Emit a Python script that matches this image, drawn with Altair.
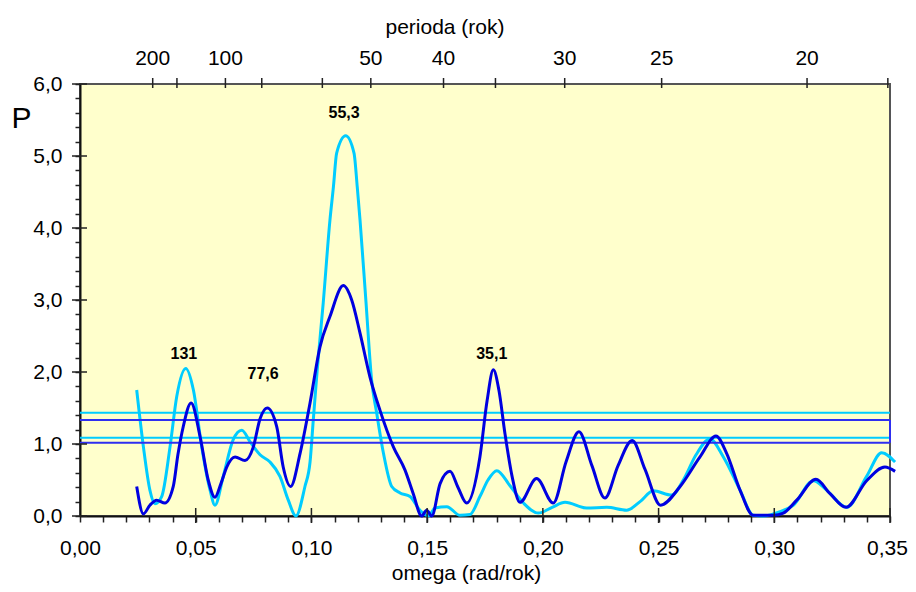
import altair as alt
import pandas as pd

# ---------------- data ----------------
omega_cyan = [0.0245, 0.0274, 0.0302, 0.0324, 0.0353, 0.0389, 0.0418, 0.0457, 0.0490, 0.0526,
              0.0562, 0.0583, 0.0619, 0.0662, 0.0699, 0.0735, 0.0778, 0.0821, 0.0864, 0.0900,
              0.0933, 0.0972, 0.0994, 0.1008, 0.1025, 0.1051, 0.1080, 0.1095, 0.1109, 0.1148,
              0.1184, 0.1198, 0.1210, 0.1236, 0.1260, 0.1282, 0.1311, 0.1347, 0.1383, 0.1426,
              0.1469, 0.1505, 0.1534, 0.1585, 0.1642, 0.1685, 0.1728, 0.1763, 0.1801, 0.1858,
              0.1916, 0.1980, 0.2040, 0.2096, 0.2189, 0.2276, 0.2362, 0.2420, 0.2477, 0.2557,
              0.2607, 0.2662, 0.2722, 0.2780, 0.2852, 0.2909, 0.2953, 0.3025, 0.3082, 0.3169,
              0.3226, 0.3313, 0.3399, 0.3464, 0.3522]
p_cyan = [1.75, 0.96, 0.36, 0.17, 0.27, 0.96, 1.66, 2.05, 1.75, 0.96,
          0.36, 0.15, 0.55, 1.06, 1.19, 1.03, 0.85, 0.75, 0.55, 0.22,
          0.00, 0.41, 0.75, 1.33, 2.03, 2.96, 4.11, 4.57, 5.04, 5.28,
          5.04, 4.57, 4.11, 2.96, 1.89, 1.43, 0.875, 0.41, 0.32, 0.27,
          0.08, 0.00, 0.11, 0.13, 0.01, 0.02, 0.27, 0.50, 0.63, 0.42,
          0.18, 0.04, 0.12, 0.19, 0.11, 0.12, 0.08, 0.20, 0.35, 0.29,
          0.50, 0.85, 1.07, 0.82, 0.36, 0.01, 0.00, 0.06, 0.15, 0.49,
          0.36, 0.12, 0.55, 0.88, 0.75]

omega_blue = [0.0245, 0.0274, 0.0302, 0.0331, 0.0367, 0.0403, 0.0423, 0.0446, 0.0480, 0.0519,
              0.0554, 0.0583, 0.0609, 0.0634, 0.0670, 0.0713, 0.0749, 0.0778, 0.0809, 0.0850,
              0.0878, 0.0910, 0.0951, 0.0994, 0.1037, 0.1080, 0.1138, 0.1174, 0.1210, 0.1253,
              0.1296, 0.1354, 0.1404, 0.1440, 0.1476, 0.1498, 0.1520, 0.1556, 0.1599, 0.1633,
              0.1671, 0.1728, 0.1759, 0.1786, 0.1810, 0.1836, 0.1867, 0.1901, 0.1973, 0.2045,
              0.2100, 0.2156, 0.2212, 0.2268, 0.2325, 0.2386, 0.2441, 0.2509, 0.2593, 0.2679,
              0.2748, 0.2794, 0.2852, 0.2909, 0.2996, 0.3039, 0.3097, 0.3180, 0.3241, 0.3310,
              0.3399, 0.3478, 0.3522]
p_blue = [0.41, 0.03, 0.15, 0.22, 0.18, 0.41, 0.85, 1.24, 1.57, 1.10,
          0.50, 0.26, 0.45, 0.68, 0.82, 0.77, 0.96, 1.35, 1.50, 1.24,
          0.68, 0.41, 0.87, 1.57, 2.35, 2.77, 3.20, 3.00, 2.54, 1.93,
          1.47, 0.96, 0.64, 0.31, 0.00, 0.08, 0.00, 0.45, 0.62, 0.40,
          0.18, 0.82, 1.60, 2.03, 1.75, 1.15, 0.55, 0.19, 0.52, 0.18,
          0.75, 1.17, 0.70, 0.25, 0.70, 1.05, 0.65, 0.15, 0.41, 0.82,
          1.11, 0.87, 0.36, 0.01, 0.01, 0.04, 0.22, 0.51, 0.31, 0.12,
          0.49, 0.68, 0.62]

thr_cyan = [1.435, 1.088]
thr_blue = [1.333, 1.018]

peak_labels = ["131", "77,6", "55,3", "35,1"]
peak_omega = [0.0449, 0.0791, 0.1141, 0.1779]
peak_p = [2.25, 1.97, 5.60, 2.25]

period_ticks = [200, 150, 100, 80, 60, 50, 40, 35, 30, 25, 20, 18]
period_labels = [200, 100, 50, 40, 30, 25, 20]

x_ticks = [round(i * 0.01, 2) for i in range(36)]
x_major = [round(i * 0.05, 2) for i in range(1, 8)]
y_ticks = [round(i * 0.2, 1) for i in range(31)]
y_major = [float(i) for i in range(7)]

# ---------------- styling ----------------
W, H = 810, 432
FONT = "Liberation Sans"
CYAN = "#00CCFF"
BLUE = "#0000E0"
BLUE_THR = "#2E2EF0"
TWO_PI = 6.283185307179586

xs = alt.Scale(domain=[0, 0.35], nice=False, zero=False)
ys = alt.Scale(domain=[0, 6], nice=False, zero=False)

x_axis = alt.Axis(
    values=x_ticks,
    labelExpr="abs(datum.value*20 - round(datum.value*20)) < 0.001 ? replace(format(datum.value, '.2f'), '.', ',') : ''",
    labelOffset={"condition": {"test": "datum.value > 0.345", "value": -3}, "value": 0},
    tickSize=6, tickWidth=1.5, tickColor="#222",
    domainColor="#111", domainWidth=2,
    labelFontSize=21, labelColor="black", labelPadding=15,
    labelFlush=False, labelOverlap=False, labelBound=False,
    grid=False,
    title="omega (rad/rok)", titleFontSize=21, titleFontWeight="normal", titleColor="black",
    titleX=386, titleY=63, titleAlign="center", titleBaseline="alphabetic",
)
y_axis = alt.Axis(
    values=y_ticks,
    labelExpr="abs(datum.value - round(datum.value)) < 0.001 ? replace(format(datum.value, '.1f'), '.', ',') : ''",
    tickSize=5, tickWidth=1.5, tickColor="#222",
    domainColor="#111", domainWidth=2,
    labelFontSize=21, labelColor="black", labelPadding=13,
    labelFlush=False, labelOverlap=False, labelBound=False,
    grid=False,
    title="P", titleAngle=0, titleFontSize=30, titleFontWeight="normal", titleColor="black",
    titleX=-69, titleY=43, titleAlign="left", titleBaseline="alphabetic",
)


def X():
    return alt.X("omega:Q", scale=xs, axis=x_axis)


def Y():
    return alt.Y("P:Q", scale=ys, axis=y_axis)


df_cyan = pd.DataFrame({"omega": omega_cyan, "P": p_cyan})
df_blue = pd.DataFrame({"omega": omega_blue, "P": p_blue})
df_thr_c = pd.DataFrame({"P": thr_cyan})
df_thr_b = pd.DataFrame({"P": thr_blue})
df_edge = pd.DataFrame({"omega": [0.35], "P": [min(thr_blue)], "P2": [max(thr_blue)]})
df_peaks = pd.DataFrame({"omega": peak_omega, "P": peak_p, "label": peak_labels})
df_top_ticks = pd.DataFrame({"omega": [TWO_PI / p for p in period_ticks]})
df_top_labels = pd.DataFrame({"omega": [TWO_PI / p for p in period_labels],
                              "label": [str(p) for p in period_labels]})
df_xmaj = pd.DataFrame({"omega": x_major})
df_ymaj = pd.DataFrame({"P": y_major})
df_top_title = pd.DataFrame({"t": ["perioda (rok)"]})

line_c = alt.Chart(df_cyan).mark_line(color=CYAN, strokeWidth=3, interpolate="monotone").encode(
    x=X(), y=Y())
line_b = alt.Chart(df_blue).mark_line(color=BLUE, strokeWidth=3, interpolate="monotone").encode(
    x=X(), y=Y())

thr_c = alt.Chart(df_thr_c).mark_rule(color=CYAN, strokeWidth=2).encode(y=Y())
thr_b = alt.Chart(df_thr_b).mark_rule(color=BLUE_THR, strokeWidth=2).encode(y=Y())
thr_edge = alt.Chart(df_edge).mark_rule(color=BLUE_THR, strokeWidth=2).encode(
    x=X(), y=Y(), y2="P2:Q")

peaks = alt.Chart(df_peaks).mark_text(font=FONT, fontSize=16, fontWeight="bold", color="black").encode(
    x=X(), y=Y(), text="label:N")

xmaj = alt.Chart(df_xmaj).mark_rule(color="#222", strokeWidth=1.5).encode(
    x=X(), y=alt.value(H - 8), y2=alt.value(H + 7))
ymaj = alt.Chart(df_ymaj).mark_rule(color="#222", strokeWidth=1.5).encode(
    y=Y(), x=alt.value(-8), x2=alt.value(7))

top_ticks = alt.Chart(df_top_ticks).mark_rule(color="#222", strokeWidth=1.5).encode(
    x=X(), y=alt.value(-6), y2=alt.value(4))
top_labels = alt.Chart(df_top_labels).mark_text(font=FONT, fontSize=21, baseline="alphabetic",
                                                color="black").encode(
    x=X(), y=alt.value(-19), text="label:N")
top_title = alt.Chart(df_top_title).mark_text(font=FONT, fontSize=21, baseline="alphabetic",
                                              align="center", color="black").encode(
    x=alt.value(365), y=alt.value(-50), text="t:N")

chart = alt.layer(
    line_c, thr_c, thr_b, thr_edge, line_b, peaks, xmaj, ymaj, top_ticks, top_labels, top_title
).properties(
    width=W, height=H,
    autosize=alt.AutoSizeParams(type="none"),
    padding={"left": 72, "top": 76, "right": 18, "bottom": 68},
    background="white",
).configure(
    font=FONT,
).configure_view(
    fill="#FFFFCC", stroke="#555555", strokeWidth=2,
)

chart.save("out.html", embed_options={"renderer": "svg", "actions": False})
